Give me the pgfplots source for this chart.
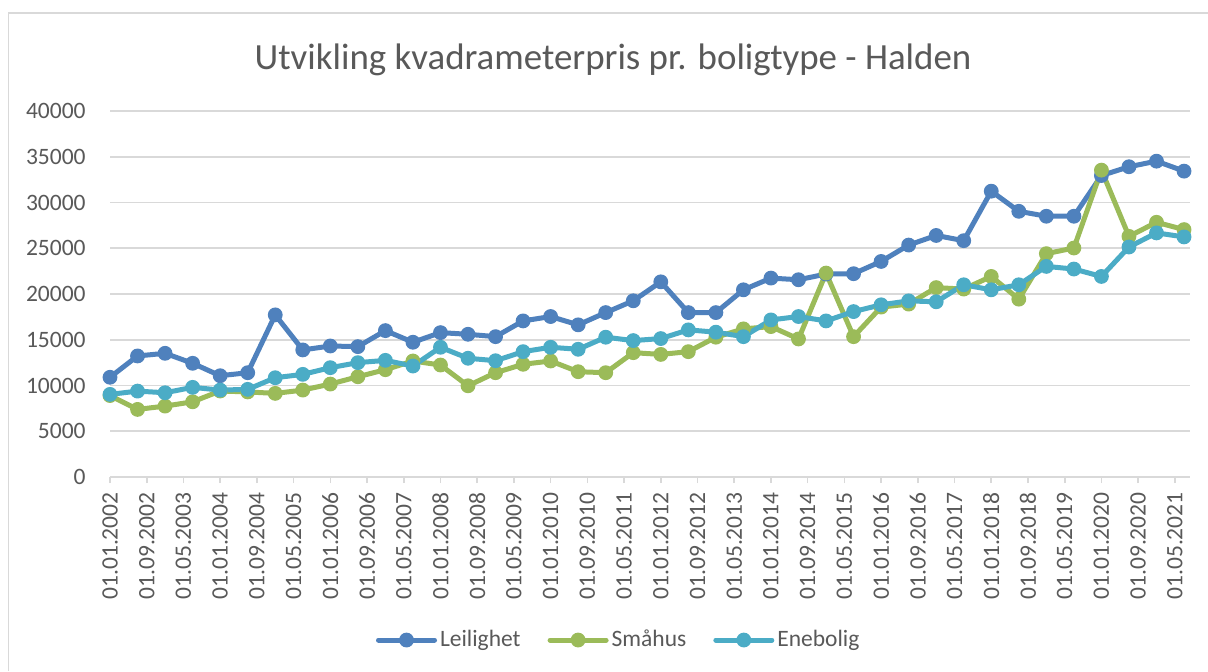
\documentclass[border=0pt]{standalone}
\usepackage{fontspec}
\setmainfont{Carlito}
\usepackage{pgfplots}
\pgfplotsset{compat=1.18}
\definecolor{blueL}{HTML}{4F81BD}
\definecolor{greenS}{HTML}{9BBB59}
\definecolor{aquaE}{HTML}{4BACC6}
\definecolor{gridgray}{HTML}{D9D9D9}
\definecolor{textgray}{HTML}{595959}
\begin{document}
\begin{tikzpicture}
\begin{scope}[x=0.5pt,y=-0.5pt]
\useasboundingbox (0,0) rectangle (1208,671);
\fill[white] (0,0) rectangle (1208,671);
\draw[gridgray, line width=0.8pt] (8.5,671) -- (8.5,13) -- (1208,13);
\node[anchor=base, font=\fontsize{18.45}{22}\selectfont, text=textgray, inner sep=0pt] at (613,69) {Utvikling kvadrameterpris pr. boligtype - Halden};
\end{scope}
\begin{axis}[
  at={(55pt,-238.5pt)}, anchor=south west,
  scale only axis, width=540pt, height=183pt,
  xmin=0, xmax=235.3, ymin=0, ymax=40000,
  clip=false,
  axis line style={draw=none},
  ymajorgrids, grid style={color=gridgray, line width=0.8pt},
  ytick={0,5000,...,40000},
  scaled y ticks=false,
  xtick={0,8,...,232},
  xticklabels={01.01.2002,01.09.2002,01.05.2003,01.01.2004,01.09.2004,01.05.2005,01.01.2006,01.09.2006,01.05.2007,01.01.2008,01.09.2008,01.05.2009,01.01.2010,01.09.2010,01.05.2011,01.01.2012,01.09.2012,01.05.2013,01.01.2014,01.09.2014,01.05.2015,01.01.2016,01.09.2016,01.05.2017,01.01.2018,01.09.2018,01.05.2019,01.01.2020,01.09.2020,01.05.2021},
  tick align=outside, major tick length=3pt,
  xtick pos=bottom, ytick pos=left,
  ytick style={draw=none},
  xtick style={color=gridgray, line width=0.8pt},
  /pgf/number format/1000 sep={},
  /pgf/number format/assume math mode=true,
  tick label style={font=\fontsize{11.75}{14}\selectfont, text=textgray},
  yticklabel style={anchor=east, inner sep=0pt, xshift=-9pt},
  xticklabel style={yshift=-4.5pt, rotate=90, anchor=east, inner sep=0pt},
  every axis plot/.append style={line width=2.5pt, line join=round, line cap=round, mark=*, mark size=3.4pt, mark options={solid, line width=0.6pt}},
  legend columns=3,
  legend cell align=left,
  legend style={draw=none, fill=none, at={(0.4715,-0.4454)}, anchor=center,
    font=\fontsize{11.75}{14}\selectfont, text=textgray,
    nodes={inner sep=1.5pt},
    /tikz/every even column/.append style={column sep=12pt}},
  legend image code/.code={\draw[mark repeat=2,mark phase=2,#1] plot coordinates {(0pt,0pt) (14pt,0pt) (28pt,0pt)};},
]
\addplot[color=blueL] coordinates {
(0,10900) (6,13230) (12,13520) (18,12430) (24,11070) (30,11400) (36,17720) (42,13890)
(48,14320) (54,14250) (60,16000) (66,14730) (72,15780) (78,15600) (84,15340) (90,17060)
(96,17540) (102,16630) (108,17970) (114,19260) (120,21330) (126,17970) (132,17970) (138,20460)
(144,21740) (150,21560) (156,22180) (162,22220) (168,23560) (174,25350) (180,26400) (186,25830)
(192,31240) (198,29040) (204,28500) (210,28500) (216,32950) (222,33910) (228,34520) (234,33430)};
\addlegendentry{Leilighet}
\addplot[color=greenS] coordinates {
(0,8900) (6,7390) (12,7750) (18,8220) (24,9400) (30,9300) (36,9140) (42,9500)
(48,10160) (54,10960) (60,11730) (66,12680) (72,12240) (78,9970) (84,11400) (90,12320)
(96,12680) (102,11510) (108,11400) (114,13590) (120,13400) (126,13700) (132,15280) (138,16190)
(144,16440) (150,15090) (156,22290) (162,15340) (168,18570) (174,18900) (180,20700) (186,20540)
(192,21920) (198,19440) (204,24410) (210,25030) (216,33540) (222,26300) (228,27840) (234,27040)};
\addlegendentry{Småhus}
\addplot[color=aquaE] coordinates {
(0,9030) (6,9390) (12,9210) (18,9800) (24,9500) (30,9580) (36,10850) (42,11220)
(48,11950) (54,12500) (60,12750) (66,12130) (72,14180) (78,12980) (84,12710) (90,13700)
(96,14180) (102,13960) (108,15280) (114,14910) (120,15130) (126,16080) (132,15830) (138,15340)
(144,17170) (150,17540) (156,17060) (162,18080) (168,18820) (174,19250) (180,19150) (186,21010)
(192,20460) (198,21010) (204,23020) (210,22730) (216,21920) (222,25140) (228,26680) (234,26240)};
\addlegendentry{Enebolig}
\end{axis}
\end{tikzpicture}
\end{document}
